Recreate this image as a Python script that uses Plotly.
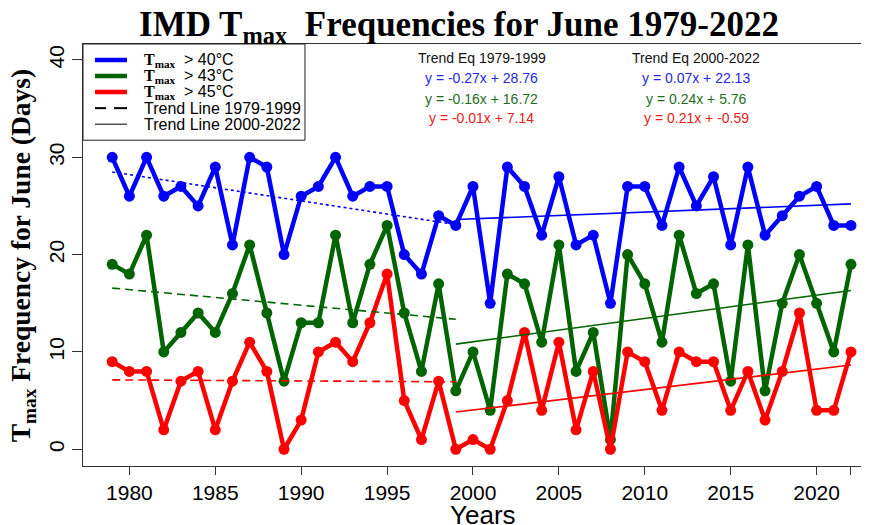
import plotly.graph_objects as go

years = list(range(1979, 2023))
tmax40 = [30, 26, 30, 26, 27, 25, 29, 21, 30, 29, 20, 26, 27, 30, 26, 27, 27, 20, 18, 24, 23,
          27, 15, 29, 27, 22, 28, 21, 22, 15, 27, 27, 23, 29, 25, 28, 21, 29, 22, 24, 26, 27, 23, 23]
tmax43 = [19, 18, 22, 10, 12, 14, 12, 16, 21, 14, 7, 13, 13, 22, 13, 19, 23, 14, 8, 17, 6,
          10, 4, 18, 17, 11, 21, 8, 12, 1, 20, 17, 11, 22, 16, 17, 7, 21, 6, 15, 20, 15, 10, 19]
tmax45 = [9, 8, 8, 2, 7, 8, 2, 7, 11, 8, 0, 3, 10, 11, 9, 13, 18, 5, 1, 7, 0,
          1, 0, 5, 12, 4, 11, 2, 8, 0, 10, 9, 4, 10, 9, 9, 4, 8, 3, 8, 14, 4, 4, 10]

series_names = ["40", "43", "45"]
series_values = [tmax40, tmax43, tmax45]
line_colors = ["#0000FF", "#006400", "#FF0000"]
text_colors = ["#2626E6", "#1E6E1E", "#E62020"]

# Trend coefficients (x = index of year, 1979 -> 1)
slope_p1 = [-0.27, -0.16, -0.01]
inter_p1 = [28.76, 16.72, 7.14]
slope_p2 = [0.07, 0.24, 0.21]
inter_p2 = [22.13, 5.76, -0.59]
eq_text_p1 = ["y = -0.27x + 28.76", "y = -0.16x + 16.72", "y = -0.01x + 7.14"]
eq_text_p2 = ["y = 0.07x + 22.13", "y = 0.24x + 5.76", "y = 0.21x + -0.59"]

x_ticks = [1980, 1985, 1990, 1995, 2000, 2005, 2010, 2015, 2020, 2022]
x_tick_labels = ["1980", "1985", "1990", "1995", "2000", "2005", "2010", "2015", "2020", ""]
y_ticks = [0, 10, 20, 30, 40]

SERIF = "Liberation Serif"
SANS = "Liberation Sans"

fig = go.Figure()

for vals, col in zip(series_values, line_colors):
    fig.add_trace(go.Scatter(x=years, y=vals, mode="lines+markers",
                             line=dict(color=col, width=4.5),
                             marker=dict(color=col, size=11),
                             showlegend=False, hoverinfo="x+y"))

idx = list(range(1, len(years) + 1))
i_end1 = years.index(1999)
for k, col in enumerate(line_colors):
    xs1 = [years[0], years[i_end1]]
    ys1 = [slope_p1[k] * idx[0] + inter_p1[k], slope_p1[k] * idx[i_end1] + inter_p1[k]]
    dash = "3px,3px" if k == 0 else "8px,5px"
    fig.add_trace(go.Scatter(x=xs1, y=ys1, mode="lines",
                             line=dict(color=col, width=1.6, dash=dash),
                             showlegend=False, hoverinfo="skip"))
    xs2 = [years[i_end1], years[-1]]
    ys2 = [slope_p2[k] * idx[i_end1] + inter_p2[k], slope_p2[k] * idx[-1] + inter_p2[k]]
    fig.add_trace(go.Scatter(x=xs2, y=ys2, mode="lines",
                             line=dict(color=col, width=1.6),
                             showlegend=False, hoverinfo="skip"))

# ---- manual legend (paper coordinates) ----
legend_rows = [0.962, 0.924, 0.886, 0.848, 0.810]
tm = "<span style='font-family:Liberation Serif;font-size:16px'><b>T<sub>max</sub></b></span>"
legend_labels = [f"{tm}  > {n}°C" for n in series_names] + ["Trend Line 1979-1999", "Trend Line 2000-2022"]
legend_colors = line_colors + ["black", "black"]
legend_widths = [4.5, 4.5, 4.5, 2, 1]
legend_dash = ["solid", "solid", "solid", "dash", "solid"]

shapes = [dict(type="rect", xref="paper", yref="paper", x0=0, x1=0.2824, y0=0.772, y1=1,
               line=dict(color="#222222", width=1), fillcolor="white", layer="above")]
for yy, col, w, d in zip(legend_rows, legend_colors, legend_widths, legend_dash):
    if d == "dash":
        for a, b in [(0.0153, 0.0293), (0.0394, 0.0560)]:
            shapes.append(dict(type="line", xref="paper", yref="paper", x0=a, x1=b, y0=yy, y1=yy,
                               line=dict(color=col, width=w), layer="above"))
    else:
        shapes.append(dict(type="line", xref="paper", yref="paper", x0=0.0153, x1=0.0560, y0=yy, y1=yy,
                           line=dict(color=col, width=w), layer="above"))

annotations = []
for yy, lab in zip(legend_rows, legend_labels):
    annotations.append(dict(x=0.0751, y=yy, xref="paper", yref="paper", text=lab,
                            xanchor="left", yanchor="middle", showarrow=False,
                            font=dict(family=SANS, size=16, color="black")))

# Trend equation annotations
eq_y = [38.1, 36.0, 34.0]
for xc, head, eqs in [(2000.5, "Trend Eq 1979-1999", eq_text_p1), (2013.0, "Trend Eq 2000-2022", eq_text_p2)]:
    annotations.append(dict(x=xc, y=40.2, xref="x", yref="y", text=head, showarrow=False,
                            font=dict(family=SANS, size=14, color="#111111")))
    for k in range(3):
        annotations.append(dict(x=xc, y=eq_y[k], xref="x", yref="y", text=eqs[k], showarrow=False,
                                font=dict(family=SANS, size=14, color=text_colors[k])))

# Axis titles as annotations
annotations.append(dict(x=0.509, y=-0.116, xref="paper", yref="paper", text="Years",
                        showarrow=False, xanchor="center", yanchor="middle",
                        font=dict(family=SANS, size=26, color="black")))
annotations.append(dict(x=-0.0776, y=0.497, xref="paper", yref="paper",
                        text="<b>T<sub>max</sub> Frequency for June (Days)</b>", textangle=-90,
                        showarrow=False, xanchor="center", yanchor="middle",
                        font=dict(family=SERIF, size=27.5, color="black")))

fig.update_layout(
    width=861, height=517,
    margin=dict(l=75, r=0, t=36, b=59),
    paper_bgcolor="white", plot_bgcolor="white",
    title=dict(text="<b>IMD T<sub>max</sub>  Frequencies for June 1979-2022</b>",
               x=451 / 861, xanchor="center", xref="container",
               y=1 - 16 / 517, yanchor="middle", yref="container",
               font=dict(family=SERIF, size=35, color="black")),
    showlegend=False,
    shapes=shapes,
    annotations=annotations,
)
fig.update_xaxes(range=[1977.3, 2023.05], tickvals=x_ticks, ticktext=x_tick_labels,
                 ticks="outside", ticklen=8, tickcolor="#333333",
                 showline=True, linecolor="#333333", linewidth=1, mirror=True,
                 showgrid=False, zeroline=False,
                 tickfont=dict(family=SANS, size=21, color="black"))
fig.update_yaxes(range=[-1.72, 41.64], tickvals=y_ticks,
                 ticks="outside", ticklen=10, tickcolor="#333333", tickangle=-90,
                 showline=True, linecolor="#333333", linewidth=1,
                 showgrid=False, zeroline=False,
                 tickfont=dict(family=SANS, size=21, color="black"))

fig.write_html("out.html")
